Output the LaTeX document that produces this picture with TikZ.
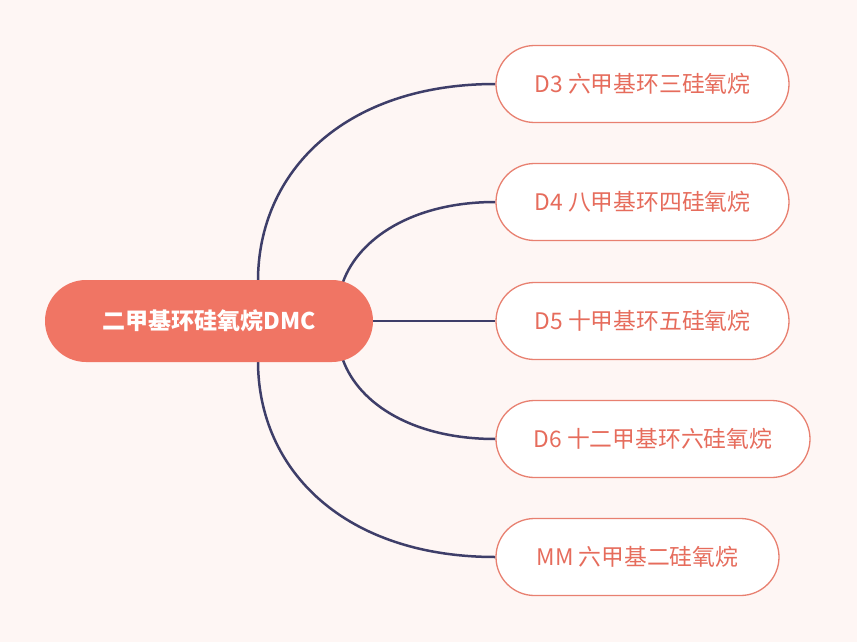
\documentclass[tikz,border=0pt]{standalone}
\usepackage{fontspec}
\setmainfont{Noto Sans CJK SC}
\usetikzlibrary{backgrounds}
\definecolor{bgc}{RGB}{254,246,244}
\definecolor{rootc}{RGB}{240,117,100}
\definecolor{edgec}{RGB}{232,128,112}
\definecolor{txtc}{RGB}{230,108,92}
\definecolor{linec}{RGB}{62,62,105}
\tikzset{
  rootbox/.style={fill=rootc, draw=none, rounded corners=41pt, minimum width=328pt, minimum height=82pt, text=white, font=\fontsize{23pt}{27pt}\selectfont\bfseries, inner sep=0pt},
  leafbox/.style={fill=white, draw=edgec, line width=1.3pt, rounded corners=38.5pt, minimum height=77pt, text=txtc, font=\fontsize{22.8pt}{27pt}\selectfont, inner sep=0pt},
  conn/.style={draw=linec, line width=2.5pt}
}
\begin{document}
\begin{tikzpicture}[x=1pt,y=-1pt]
\useasboundingbox (0,0) rectangle (857,642);
\node[rootbox] (root) at (209,321) {二甲基环硅氧烷DMC};
\node[leafbox, minimum width=293pt] (d3) at (642.5,84) {D3 六甲基环三硅氧烷};
\node[leafbox, minimum width=293pt] (d4) at (642.5,202) {D4 八甲基环四硅氧烷};
\node[leafbox, minimum width=293pt] (d5) at (642.5,321) {D5 十甲基环五硅氧烷};
\node[leafbox, minimum width=314pt] (d6) at (653,439) {D6 十二甲基环六硅氧烷};
\node[leafbox, minimum width=283pt] (mm) at (637.5,557) {MM 六甲基二硅氧烷};
\coordinate (s1) at (258,281);
\coordinate (s2) at (343,282);
\coordinate (s4) at (343,360);
\coordinate (s5) at (258,361);
\begin{scope}[on background layer]
\fill[bgc] (0,0) rectangle (857,642);
\draw[conn] (s1) .. controls +(0,-110) and +(-150,0) .. (d3.west);
\draw[conn] (s2) .. controls +(16,-44) and +(-82,0) .. (d4.west);
\draw[conn] (root.east) -- (d5.west);
\draw[conn] (s4) .. controls +(16,44) and +(-82,0) .. (d6.west);
\draw[conn] (s5) .. controls +(0,110) and +(-150,0) .. (mm.west);
\end{scope}
\end{tikzpicture}
\end{document}
